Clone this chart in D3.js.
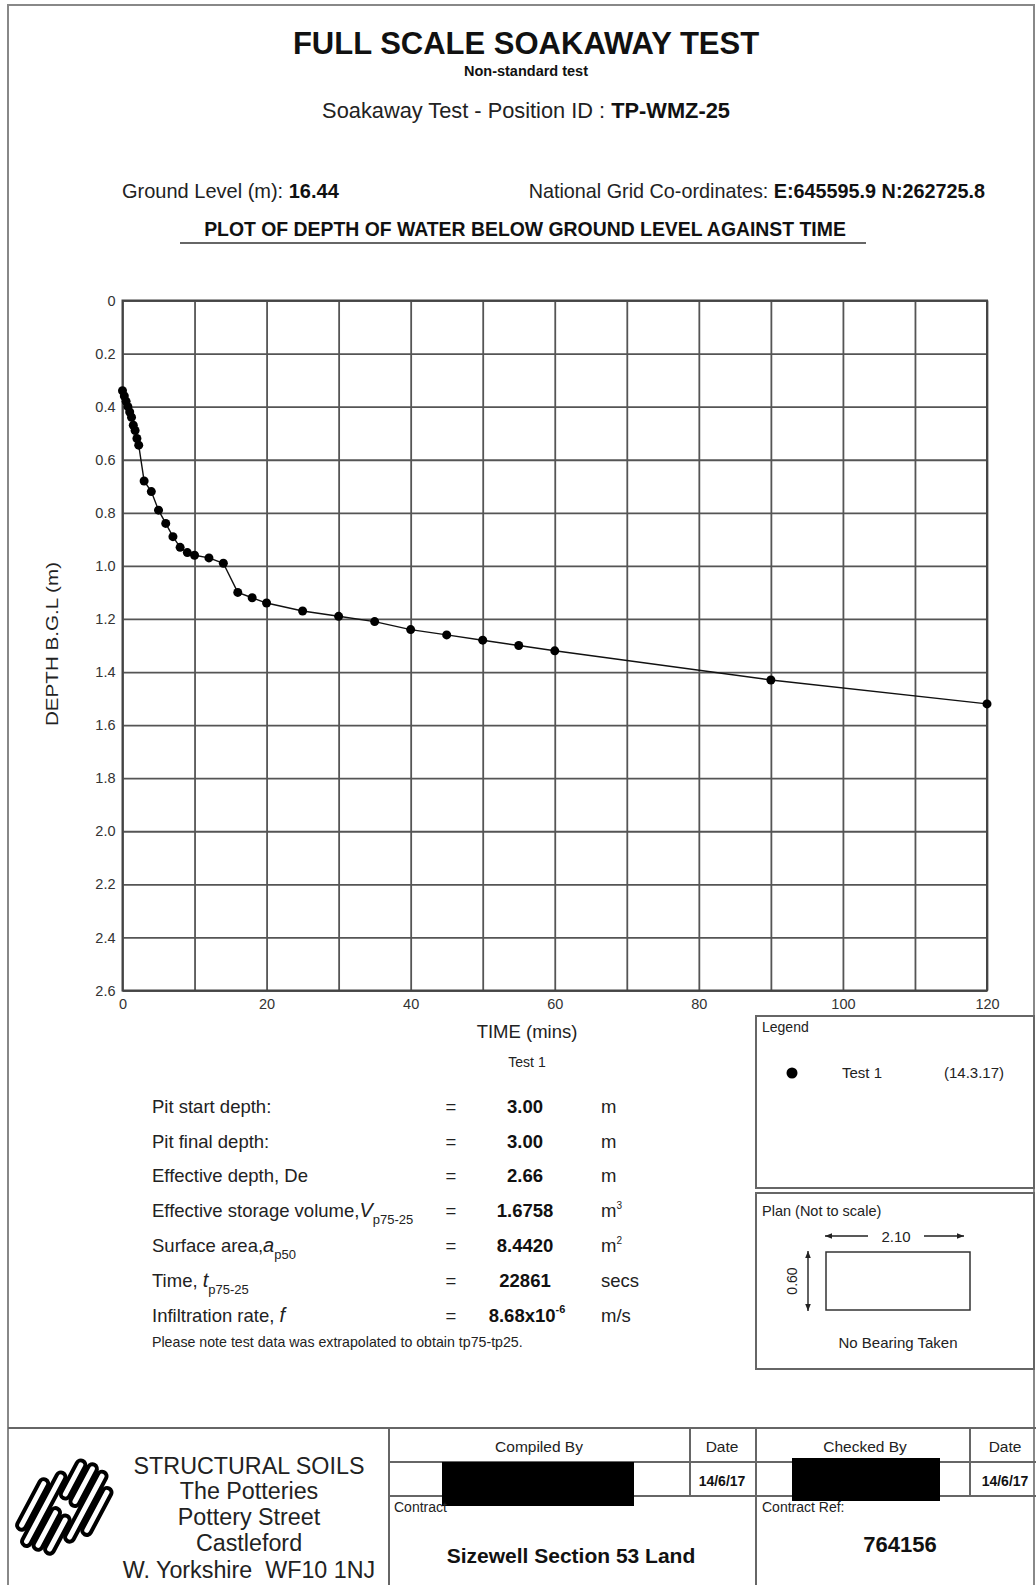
<!DOCTYPE html>
<html>
<head>
<meta charset="utf-8">
<script src="https://cdn.jsdelivr.net/npm/d3@7"></script>
<style>
  body { margin: 0; background: #fff; }
  svg { display: block; font-family: "Liberation Sans", Arial, sans-serif; }
</style>
</head>
<body>
<div id="chart"></div>
<script>
// Test readings
var timeMins = [0, 0.25, 0.5, 0.75, 1, 1.25, 1.5, 1.75, 2, 2.25, 3, 4, 5, 6, 7, 8, 9, 10, 12, 14,
                16, 18, 20, 25, 30, 35, 40, 45, 50, 55, 60, 90, 120];
var depthM = [0.34, 0.36, 0.38, 0.40, 0.42, 0.44, 0.47, 0.49, 0.52, 0.545, 0.68, 0.72, 0.79, 0.84, 0.89, 0.93, 0.95, 0.96, 0.97, 0.99,
              1.10, 1.12, 1.14, 1.17, 1.19, 1.21, 1.24, 1.26, 1.28, 1.30, 1.32, 1.43, 1.52];

// Axis ticks
var xTicks = [0, 20, 40, 60, 80, 100, 120];
var xGrid = [0, 10, 20, 30, 40, 50, 60, 70, 80, 90, 100, 110, 120];
var yTicks = [0, 0.2, 0.4, 0.6, 0.8, 1.0, 1.2, 1.4, 1.6, 1.8, 2.0, 2.2, 2.4, 2.6];

// Results table: [label, italic symbol, subscript]
var paramLabels = [["Pit start depth:", "", ""], ["Pit final depth:", "", ""], ["Effective depth, De", "", ""],
                   ["Effective storage volume,", "V", "p75-25"], ["Surface area,", "a", "p50"],
                   ["Time,  ", "t", "p75-25"], ["Infiltration rate,  ", "f", ""]];
var paramValues = ["3.00", "3.00", "2.66", "1.6758", "8.4420", "22861", "8.68x10"];
var paramUnits = ["m", "m", "m", "m", "m", "secs", "m/s"];
var unitSups = ["", "", "", "3", "2", "", ""];

var W = 1036, H = 1585;
var svg = d3.select("#chart").append("svg")
  .attr("width", W)
  .attr("height", H);

svg.append("rect").attr("width", W).attr("height", H).attr("fill", "#fff");

// page frame
svg.append("path")
  .attr("d", "M8,1585 V5 H1034 V1585")
  .attr("fill", "none")
  .attr("stroke", "#888")
  .attr("stroke-width", 2);

function label(x, y, str, size, opts) {
  opts = opts || {};
  return svg.append("text")
    .attr("x", x).attr("y", y)
    .attr("text-anchor", opts.anchor || "start")
    .attr("font-size", size)
    .attr("font-weight", opts.bold ? "bold" : "normal")
    .attr("fill", opts.color || "#222")
    .text(str);
}

// Header
label(526, 54, "FULL SCALE SOAKAWAY TEST", 31, {anchor: "middle", bold: true, color: "#111"});
label(526, 76, "Non-standard test", 14.5, {anchor: "middle", bold: true, color: "#111"});

var posId = label(526, 118, "Soakaway Test - Position ID : ", 21.8, {anchor: "middle"});
posId.append("tspan").attr("font-weight", "bold").attr("fill", "#111").text("TP-WMZ-25");

var gl = label(122, 198, "Ground Level (m): ", 20);
gl.append("tspan").attr("font-weight", "bold").attr("fill", "#111").text("16.44");

var ng = label(985, 198, "National Grid Co-ordinates: ", 19.8, {anchor: "end"});
ng.append("tspan").attr("font-weight", "bold").attr("fill", "#111").text("E:645595.9 N:262725.8");

label(525, 236, "PLOT OF DEPTH OF WATER BELOW GROUND LEVEL AGAINST TIME", 19.4, {anchor: "middle", bold: true, color: "#111"});
svg.append("line")
  .attr("x1", 180).attr("x2", 866).attr("y1", 243).attr("y2", 243)
  .attr("stroke", "#666").attr("stroke-width", 2);

// Plot
var x = d3.scaleLinear().domain([0, 120]).range([122.5, 987]);
var y = d3.scaleLinear().domain([0, 2.6]).range([300.5, 990.5]);

var plot = svg.append("g");

plot.append("g")
  .attr("transform", "translate(0," + y(2.6) + ")")
  .call(d3.axisBottom(x).tickValues(xGrid).tickSize(-(y(2.6) - y(0))).tickFormat(""))
  .call(function(g) { g.select(".domain").remove(); })
  .selectAll("line").attr("stroke", "#555").attr("stroke-width", 1.8);

plot.append("g")
  .attr("transform", "translate(" + x(0) + ",0)")
  .call(d3.axisLeft(y).tickValues(yTicks).tickSize(-(x(120) - x(0))).tickFormat(""))
  .call(function(g) { g.select(".domain").remove(); })
  .selectAll("line").attr("stroke", "#555").attr("stroke-width", 1.8);

plot.append("rect")
  .attr("x", x(0)).attr("y", y(0))
  .attr("width", x(120) - x(0)).attr("height", y(2.6) - y(0))
  .attr("fill", "none").attr("stroke", "#444").attr("stroke-width", 2);

// tick labels
plot.append("g")
  .attr("transform", "translate(0," + y(2.6) + ")")
  .call(d3.axisBottom(x).tickValues(xTicks).tickSize(0).tickPadding(8))
  .call(function(g) { g.select(".domain").remove(); })
  .selectAll("text")
  .attr("font-size", 14.5).attr("fill", "#333").attr("font-family", null);

plot.append("g")
  .attr("transform", "translate(" + x(0) + ",0)")
  .call(d3.axisLeft(y).tickValues(yTicks).tickSize(0).tickPadding(7)
    .tickFormat(function(d) { return d === 0 ? "0" : d.toFixed(1); }))
  .call(function(g) { g.select(".domain").remove(); })
  .selectAll("text")
  .attr("font-size", 14.5).attr("fill", "#333").attr("font-family", null);

// axis titles
svg.append("text")
  .attr("transform", "translate(58,644) rotate(-90)")
  .attr("text-anchor", "middle")
  .attr("font-size", 17)
  .attr("fill", "#222")
  .attr("textLength", 164).attr("lengthAdjust", "spacingAndGlyphs")
  .text("DEPTH B.G.L (m)");

label(527, 1038, "TIME (mins)", 18.5, {anchor: "middle"});
label(527, 1067, "Test 1", 14, {anchor: "middle"});

// data line + points
var pts = timeMins.map(function(t, i) { return [t, depthM[i]]; });

plot.append("path")
  .datum(pts)
  .attr("fill", "none")
  .attr("stroke", "#111")
  .attr("stroke-width", 1.4)
  .attr("d", d3.line().x(function(d) { return x(d[0]); }).y(function(d) { return y(d[1]); }));

plot.selectAll(".dot")
  .data(pts)
  .enter().append("circle")
  .attr("class", "dot")
  .attr("cx", function(d) { return x(d[0]); })
  .attr("cy", function(d) { return y(d[1]); })
  .attr("r", 4.5)
  .attr("fill", "#000");

// Results table
var rowY = [1113, 1148, 1182, 1217, 1252, 1287, 1322];
paramLabels.forEach(function(p, i) {
  var t = label(152, rowY[i], p[0], 18.5);
  if (p[1]) {
    t.append("tspan").attr("font-style", "italic").attr("font-size", 20).text(p[1]);
  }
  if (p[2]) {
    t.append("tspan").attr("font-size", 13).attr("dy", 7).text(p[2]);
  }
  label(451, rowY[i], "=", 18.5, {anchor: "middle"});
  var v = label(525, rowY[i], paramValues[i], 18.5, {anchor: "middle", bold: true, color: "#111"});
  if (i === 6) {
    v.attr("x", 527);
    v.append("tspan").attr("font-size", 11).attr("dy", -9).text("-6");
  }
  var u = label(601, rowY[i], paramUnits[i], 18.5);
  if (unitSups[i]) {
    u.append("tspan").attr("font-size", 10).attr("dy", -8).text(unitSups[i]);
  }
});
label(152, 1347, "Please note test data was extrapolated to obtain tp75-tp25.", 14.2);

// Legend box
svg.append("rect")
  .attr("x", 756).attr("y", 1016).attr("width", 278).attr("height", 172)
  .attr("fill", "none").attr("stroke", "#666").attr("stroke-width", 2);
label(762, 1032, "Legend", 14);
svg.append("circle").attr("cx", 792).attr("cy", 1073).attr("r", 5.5).attr("fill", "#000");
label(842, 1078, "Test 1", 15);
label(944, 1078, "(14.3.17)", 15);

// Plan box
svg.append("rect")
  .attr("x", 756).attr("y", 1193).attr("width", 278).attr("height", 176)
  .attr("fill", "none").attr("stroke", "#666").attr("stroke-width", 2);
label(762, 1216, "Plan (Not to scale)", 14.5);

var defs = svg.append("defs");
defs.append("marker")
  .attr("id", "arrow")
  .attr("viewBox", "0 0 10 10")
  .attr("refX", 10).attr("refY", 5)
  .attr("markerWidth", 10).attr("markerHeight", 7)
  .attr("markerUnits", "userSpaceOnUse")
  .attr("orient", "auto")
  .append("path").attr("d", "M0,1 L10,5 L0,9 Z").attr("fill", "#222");

svg.append("line").attr("x1", 868).attr("y1", 1236).attr("x2", 825).attr("y2", 1236)
  .attr("stroke", "#222").attr("stroke-width", 1.4).attr("marker-end", "url(#arrow)");
svg.append("line").attr("x1", 924).attr("y1", 1236).attr("x2", 964).attr("y2", 1236)
  .attr("stroke", "#222").attr("stroke-width", 1.4).attr("marker-end", "url(#arrow)");
label(896, 1242, "2.10", 15, {anchor: "middle"});

svg.append("rect")
  .attr("x", 826).attr("y", 1252).attr("width", 144).attr("height", 58)
  .attr("fill", "none").attr("stroke", "#333").attr("stroke-width", 1.5);
svg.append("line").attr("x1", 808).attr("y1", 1281).attr("x2", 808).attr("y2", 1251)
  .attr("stroke", "#222").attr("stroke-width", 1.4).attr("marker-end", "url(#arrow)");
svg.append("line").attr("x1", 808).attr("y1", 1281).attr("x2", 808).attr("y2", 1311)
  .attr("stroke", "#222").attr("stroke-width", 1.4).attr("marker-end", "url(#arrow)");
svg.append("text")
  .attr("transform", "translate(797,1281) rotate(-90)")
  .attr("text-anchor", "middle")
  .attr("font-size", 14).attr("fill", "#222")
  .text("0.60");
label(898, 1348, "No Bearing Taken", 15, {anchor: "middle"});

// Footer
var ft = svg.append("g").attr("stroke", "#666").attr("stroke-width", 2);
ft.append("line").attr("x1", 8).attr("x2", 1036).attr("y1", 1428).attr("y2", 1428);
ft.append("line").attr("x1", 389).attr("x2", 1036).attr("y1", 1462).attr("y2", 1462);
ft.append("line").attr("x1", 389).attr("x2", 1036).attr("y1", 1496).attr("y2", 1496);
ft.append("line").attr("x1", 389).attr("x2", 389).attr("y1", 1428).attr("y2", 1585);
ft.append("line").attr("x1", 756).attr("x2", 756).attr("y1", 1428).attr("y2", 1585);
ft.append("line").attr("x1", 690).attr("x2", 690).attr("y1", 1428).attr("y2", 1496);
ft.append("line").attr("x1", 970).attr("x2", 970).attr("y1", 1428).attr("y2", 1496);

label(539, 1452, "Compiled By", 15.5, {anchor: "middle"});
label(722, 1452, "Date", 15.5, {anchor: "middle"});
label(865, 1452, "Checked By", 15.5, {anchor: "middle"});
label(1005, 1452, "Date", 15.5, {anchor: "middle"});
label(722, 1486, "14/6/17", 14, {anchor: "middle", bold: true, color: "#111"});
label(1005, 1486, "14/6/17", 14, {anchor: "middle", bold: true, color: "#111"});

svg.append("rect").attr("x", 442).attr("y", 1462).attr("width", 192).attr("height", 44).attr("fill", "#000");
svg.append("rect").attr("x", 792).attr("y", 1458).attr("width", 148).attr("height", 43).attr("fill", "#000");

label(394, 1512, "Contract", 14);
label(762, 1512, "Contract Ref:", 14);
label(571, 1563, "Sizewell Section 53 Land", 21, {anchor: "middle", bold: true, color: "#111"});
label(900, 1552, "764156", 22, {anchor: "middle", bold: true, color: "#111"});

var company = ["STRUCTURAL SOILS", "The Potteries", "Pottery Street", "Castleford", "W. Yorkshire  WF10 1NJ"];
var compY = [1474, 1499, 1525, 1551, 1578];
company.forEach(function(s, i) {
  label(249, compY[i], s, 23.3, {anchor: "middle"}).attr("xml:space", "preserve");
});

// logo: rounded bars on a steep diagonal
var logoBars = [[-40, 16, -28], [-52, 30, -16], [-50, -4, -4], [8, 50, -4], [-48, -6, 8], [6, 52, 8], [-28, 50, 20], [-14, 38, 32]];
var logo = svg.append("g").attr("transform", "translate(63,1507) rotate(-62)");
logo.selectAll("rect")
  .data(logoBars)
  .enter().append("rect")
  .attr("x", function(d) { return d[0]; })
  .attr("y", function(d) { return d[2] - 4.5; })
  .attr("width", function(d) { return d[1] - d[0]; })
  .attr("height", 9)
  .attr("rx", 4.5)
  .attr("fill", "#fff")
  .attr("stroke", "#000")
  .attr("stroke-width", 4);
</script>
</body>
</html>
